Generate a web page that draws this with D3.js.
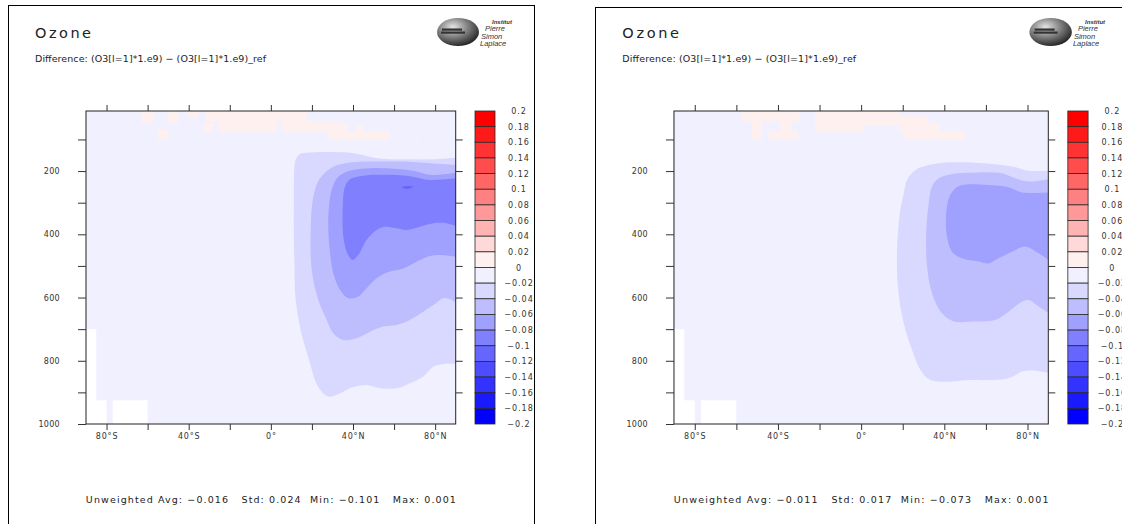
<!DOCTYPE html>
<html><head><meta charset="utf-8">
<script src="https://cdn.jsdelivr.net/npm/d3@7"></script>
<style>body{margin:0;background:#fff}svg{display:block}text{white-space:pre}</style>
</head><body>
<svg id="c" width="1122" height="524"></svg>
<script>
// ---------------- DATA ----------------
const latTicks = [-80,-60,-40,-20,0,20,40,60,80];
const latLabelVals = [-80,-40,0,40,80];
const latLabelText = ["80°S","40°S","0°","40°N","80°N"];
const presTicks = [100,200,300,400,500,600,700,800,900,1000];
const presLabelVals = [200,400,600,800,1000];
const levelBounds = [0.2,0.18,0.16,0.14,0.12,0.1,0.08,0.06,0.04,0.02,0,-0.02,-0.04,-0.06,-0.08,-0.1,-0.12,-0.14,-0.16,-0.18,-0.2];
const levelColors = ["#ff0000","#ff1a1a","#ff3333","#ff4d4d","#ff6666","#ff8080","#ff9999","#ffb3b3","#ffd9d9","#fff0f0",
                     "#f0f0ff","#d9d9ff","#bebeff","#a0a0ff","#8080ff","#6666ff","#4d4dff","#3333ff","#1a1aff","#0000ff"];
const titleText = "Ozone";
const subtitleText = "Difference: (O3[l=1]*1.e9) \u2212 (O3[l=1]*1.e9)_ref";
const statsAvg = [-0.016, -0.011];
const statsStd = [0.024, 0.017];
const statsMin = [-0.101, -0.073];
const statsMax = [0.001, 0.001];

// missing-data cells (lat0, lat1, p0, p1)
const missingCells = [[-90,-85,700,1000],[-90,-80,925,1000],[-77,-60,925,1000]];

// panel 1 : contour boundaries [lat, hPa] (region below the level)
const p1_lt002 = [[90,158],[85.6,160],[77.5,163],[64.5,163],[53.1,160],[46.6,152],[38.5,142],[17.4,142],[14.2,146],[12.2,162],[11.5,185],[11.2,300],[11.2,400],[11.5,500],[12,600],[14.5,703],[18.5,795],[23,882],[28,913],[33.7,903],[38.5,887],[46.6,877],[53.1,887],[61.3,887],[67.7,871],[74.2,850],[79.1,819],[84,810],[90,810]];
const p1_lt004 = [[90,181],[84,178],[77.5,175],[64.5,170],[48.3,170],[38.5,173],[30.4,186],[23.9,223],[20.7,281],[19.4,386],[19.9,513],[23.1,608],[27.2,671],[30.4,713],[35.3,734],[41.8,729],[48.3,708],[54.8,692],[61.3,687],[67.7,671],[74.2,645],[79.1,624],[84,602],[88,608],[90,616]];
const p1_lt006 = [[90,205],[77.5,212],[70,200],[64.5,195],[48.3,191],[38.5,199],[32.8,218],[29.6,260],[28,344],[28.5,439],[30.4,523],[33.7,576],[37.7,602],[42.6,597],[46.6,571],[51.5,539],[58,518],[64.5,508],[71,487],[77.5,469],[84,466],[90,471]];
const p1_lt008 = [[90,223],[77.5,228],[67.7,216],[53.1,212],[43.4,216],[38.5,226],[36.1,249],[35,313],[35.3,408],[37.2,460],[39.8,481],[42.6,465],[46.6,418],[51.5,386],[55.6,376],[61.3,381],[66.1,386],[72.6,376],[79.1,365],[85.6,365],[90,374]];
const p1_lt010 = [[63.7,251],[66.1,247],[69.4,249],[67.7,255],[65.3,256]];
const p1_pos = [[-62.9,-57.2,10,47],[-54.8,-49.9,70,100],[-49.9,-45.1,10,47],[-40.2,-35.3,10,31],[-32.9,-28,47,73],[-32.1,17.4,10,42],[-25.6,2.8,42,73],[5.3,32.1,42,73],[32,37,50,73],[41.8,45,55,73],[28,58,73,100],[70.7,72.6,92,100]];

// panel 2
const p2_lt002 = [[90,199],[80.6,199],[74.2,188],[67.7,181],[53.3,173],[40.5,173],[32.5,181],[26.1,197],[22.1,228],[20.5,270],[18.4,344],[17.2,481],[18,587],[20.5,681],[24.5,766],[28.5,829],[33.3,861],[42.1,866],[51.7,861],[61.3,861],[71,855],[77.4,834],[82.2,831],[90,838]];
const p2_lt004 = [[90,226],[80.6,233],[74.2,223],[67.7,207],[53.3,205],[43.7,209],[37.3,223],[34.1,249],[32.5,302],[31.3,397],[31.7,502],[34.1,587],[38.9,650],[44.5,676],[53.3,676],[64.5,671],[70.9,645],[77.4,613],[80.6,608],[85.4,629],[90,648]];
const p2_lt006 = [[90,268],[77.4,268],[74.2,260],[70.9,251],[61.3,244],[48.5,244],[45.3,255],[42.4,281],[40.8,344],[41.3,407],[43.7,455],[48.5,476],[56.5,486],[61.3,492],[66.1,476],[72.5,455],[79,439],[85.4,460],[90,481]];
const p2_pos = [[-57.4,-29.4,10,42],[-52.6,-47.8,42,100],[-39,-33.4,42,73],[-44.6,-30.2,73,100],[-22.2,1.0,10,73],[1.0,18.7,10,57],[18.7,31.5,26,73],[31.5,37.9,47,73],[20.3,50,73,100]];

// ---------------- DRAWING ----------------
const svg = d3.select("#c");
const defs = svg.append("defs");
const grad = defs.append("radialGradient").attr("id","sph").attr("cx","38%").attr("cy","32%").attr("r","70%");
grad.append("stop").attr("offset","0%").attr("stop-color","#e4e4e4");
grad.append("stop").attr("offset","45%").attr("stop-color","#8c8c8c");
grad.append("stop").attr("offset","100%").attr("stop-color","#262626");

const colorBelow = lv => levelColors[levelBounds.findIndex(b => Math.abs(b - lv) < 1e-9)];
const fmt = v => v === 0 ? "0" : (v < 0 ? "\u2212" : "") + String(Math.abs(v));

const panels = [
  {fx: 8,   fy: 5, k: 1,      contours: [[-0.02,p1_lt002,false],[-0.04,p1_lt004,false],[-0.06,p1_lt006,false],[-0.08,p1_lt008,false],[-0.1,p1_lt010,true]], pos: p1_pos, idx: 0},
  {fx: 595, fy: 7, k: 1.0125, contours: [[-0.02,p2_lt002,false],[-0.04,p2_lt004,false],[-0.06,p2_lt006,false]], pos: p2_pos, idx: 1}
];

const FONT = "DejaVu Sans, sans-serif";

panels.forEach((P, pi) => {
  const X = r => P.fx + r * P.k;
  const g = svg.append("g");
  const px0 = X(78), px1 = X(447.7), py0 = 111, py1 = 424;
  const x = d3.scaleLinear().domain([-90, 90]).range([px0, px1]);
  const y = d3.scaleLinear().domain([10, 1000]).range([py0, py1]);

  // frame
  g.append("rect").attr("x", P.fx + 0.5).attr("y", P.fy + 0.5).attr("width", 526 * P.k).attr("height", 620)
    .attr("fill", "none").attr("stroke", "#000").attr("stroke-width", 1);

  // titles
  g.append("text").attr("x", X(27)).attr("y", 37.5).text(titleText)
    .attr("font-family", FONT).attr("font-size", 14.5).attr("fill", "#222")
    .attr("textLength", 56 * P.k).attr("lengthAdjust", "spacing");
  g.append("text").attr("x", X(27)).attr("y", 61.5).text(subtitleText)
    .attr("font-family", FONT).attr("font-size", 9.5).attr("fill", "#222")
    .attr("textLength", 231 * P.k).attr("lengthAdjust", "spacing");

  // logo
  const lc = X(450);
  g.append("ellipse").attr("cx", lc).attr("cy", 32).attr("rx", 21 * P.k).attr("ry", 14).attr("fill", "url(#sph)");
  g.append("rect").attr("x", lc - 16).attr("y", 28.5).attr("width", 20).attr("height", 2.2).attr("fill", "#333");
  g.append("rect").attr("x", lc - 17).attr("y", 31.5).attr("width", 24).attr("height", 2.2).attr("fill", "#333");
  const lt = [["Institut", 484, 23.5, 6, "bold"], ["Pierre", 477, 31, 7.5, "normal"], ["Simon", 473, 38.5, 7.5, "normal"], ["Laplace", 472, 46, 7.5, "normal"]];
  lt.forEach(d => g.append("text").attr("x", X(d[1])).attr("y", d[2]).text(d[0])
    .attr("font-family", "Liberation Sans, sans-serif").attr("font-style", "italic").attr("font-weight", d[4])
    .attr("font-size", d[3]).attr("fill", "#333"));

  // clip
  const cid = "clip" + pi;
  defs.append("clipPath").attr("id", cid).append("rect").attr("x", px0).attr("y", py0).attr("width", px1 - px0).attr("height", py1 - py0);
  const plot = g.append("g").attr("clip-path", `url(#${cid})`);

  // background class (0 .. -0.02)
  plot.append("rect").attr("x", px0).attr("y", py0).attr("width", px1 - px0).attr("height", py1 - py0)
    .attr("fill", levelColors[10]);

  // positive cells (0 .. 0.02)
  plot.selectAll("rect.pos").data(P.pos).join("rect").attr("class", "pos")
    .attr("x", d => x(d[0])).attr("width", d => x(d[1]) - x(d[0]))
    .attr("y", d => y(d[2])).attr("height", d => y(d[3]) - y(d[2]))
    .attr("fill", levelColors[9]);

  // filled contours
  const lineOpen = d3.line().x(d => x(d[0])).y(d => y(d[1])).curve(d3.curveCatmullRom.alpha(0.5));
  const lineClosed = d3.line().x(d => x(d[0])).y(d => y(d[1])).curve(d3.curveCatmullRomClosed.alpha(0.5));
  P.contours.forEach(([lv, pts, closed]) => {
    plot.append("path").attr("d", (closed ? lineClosed(pts) : lineOpen(pts)) + "Z")
      .attr("fill", colorBelow(lv)).attr("stroke", "none");
  });

  // missing data
  plot.selectAll("rect.miss").data(missingCells).join("rect").attr("class", "miss")
    .attr("x", d => x(d[0])).attr("width", d => x(d[1]) - x(d[0]))
    .attr("y", d => y(d[2])).attr("height", d => y(d[3]) - y(d[2]))
    .attr("fill", "#ffffff");

  // plot border
  g.append("rect").attr("x", px0).attr("y", py0).attr("width", px1 - px0).attr("height", py1 - py0)
    .attr("fill", "none").attr("stroke", "#222").attr("stroke-width", 1);

  // axes
  const styleAxis = sel => {
    sel.select(".domain").remove();
    sel.selectAll("line").attr("stroke", "#333");
    sel.selectAll("text").attr("font-family", FONT).attr("font-size", 8).attr("fill", "#333");
  };
  g.append("g").attr("transform", `translate(${px0},0)`)
    .call(d3.axisLeft(y).tickValues(presTicks).tickSize(8).tickPadding(18)
      .tickFormat(v => presLabelVals.includes(v) ? String(v) : ""))
    .call(styleAxis).call(s => s.selectAll("text").attr("letter-spacing", 0.3));
  g.append("g").attr("transform", `translate(${px1},0)`)
    .call(d3.axisRight(y).tickValues(presTicks.filter(v => v < 1000)).tickSize(7).tickFormat(() => ""))
    .call(styleAxis);
  g.append("g").attr("transform", `translate(0,${py0})`)
    .call(d3.axisTop(x).tickValues(latTicks).tickSize(6).tickFormat(() => ""))
    .call(styleAxis);
  g.append("g").attr("transform", `translate(0,${py1})`)
    .call(d3.axisBottom(x).tickValues(latTicks).tickSize(6).tickPadding(3)
      .tickFormat(v => { const i = latLabelVals.indexOf(v); return i >= 0 ? latLabelText[i] : ""; }))
    .call(styleAxis).call(s => s.selectAll("text").attr("letter-spacing", 0.8));

  // colorbar
  const cb = g.append("g");
  const cbx = X(467), cbw = 20 * P.k;
  const cy = d3.scaleLinear().domain([0, levelColors.length]).range([py0, py1]);
  cb.selectAll("rect").data(levelColors).join("rect")
    .attr("x", cbx).attr("width", cbw)
    .attr("y", (d, i) => cy(i)).attr("height", (d, i) => cy(i + 1) - cy(i))
    .attr("fill", d => d).attr("stroke", "#2a2a2a").attr("stroke-width", 0.8);
  cb.selectAll("text").data(levelBounds).join("text")
    .attr("x", X(511)).attr("y", (d, i) => cy(i) + 3)
    .attr("text-anchor", "middle").text(d => fmt(d))
    .attr("font-family", FONT).attr("font-size", 8).attr("letter-spacing", 1).attr("fill", "#333");

  // footer statistics
  const foot = `Unweighted Avg: ${fmt(statsAvg[P.idx])}   Std: ${fmt(statsStd[P.idx])}  Min: ${fmt(statsMin[P.idx])}   Max: ${statsMax[P.idx].toFixed(3)}`;
  g.append("text").attr("x", (px0 + px1) / 2).attr("y", 503).attr("text-anchor", "middle").text(foot)
    .attr("font-family", FONT).attr("font-size", 9.5).attr("fill", "#222")
    .attr("textLength", 370 * P.k).attr("lengthAdjust", "spacing");
});
</script>
</body></html>
